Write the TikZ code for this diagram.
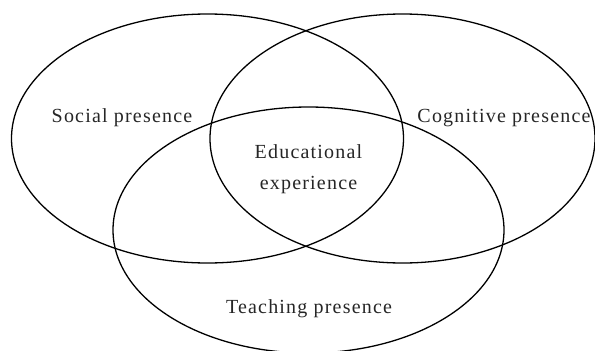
\documentclass[tikz,border=0pt]{standalone}
\usepackage{fontspec}
\setmainfont{Liberation Serif}[LetterSpace=6]
\tikzset{
	ring/.style = {draw, line width=1.3pt},
	lbl/.style = {anchor=base, inner sep=0pt, font=\fontsize{20}{24}\selectfont, text=black!85}
}

\begin{document}
\begin{tikzpicture}[x=1pt, y=-1pt]
		\useasboundingbox (0,0) rectangle (595,351);
		% centres of the three circles of the model
		\coordinate (social) at (207.5,138.5);
		\coordinate (cognitive) at (402.5,138.5);
		\coordinate (teaching) at (308.5,230);
		%
		\draw [ring] (social) ellipse [x radius=196pt, y radius=124.5pt];
		\draw [ring] (cognitive) ellipse [x radius=192.5pt, y radius=124.5pt];
		\draw [ring] (teaching) ellipse [x radius=195.5pt, y radius=123pt];
		%
		\node (sp) [lbl] at (122,122) {Social presence};
		\node (cp) [lbl] at (504,122) {Cognitive presence};
		\node (edu) [lbl] at (308.5,158) {Educational};
		\node (exp) [lbl] at (308.5,189) {experience};
		\node (tp) [lbl] at (309,313) {Teaching presence};
	\end{tikzpicture}
\end{document}
